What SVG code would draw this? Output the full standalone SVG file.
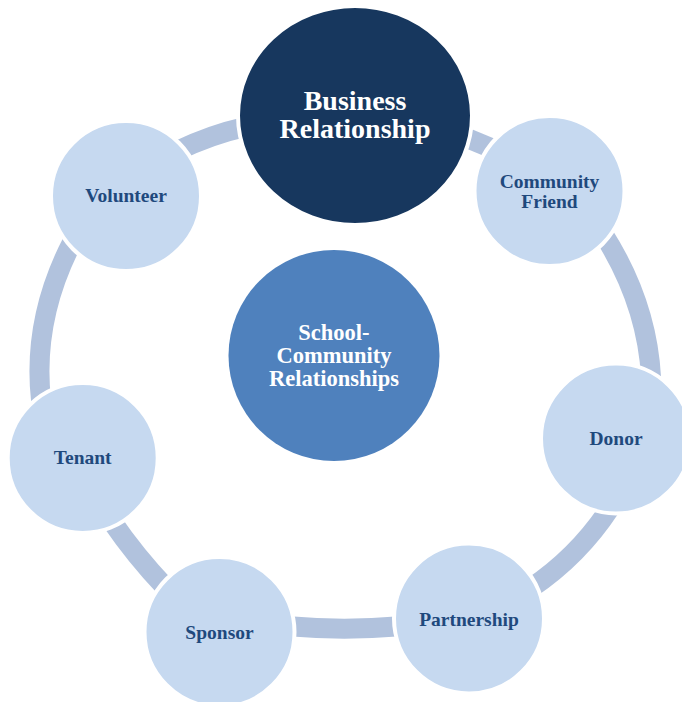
<svg xmlns="http://www.w3.org/2000/svg" width="682" height="702" viewBox="0 0 682 702">
<style>
.conn{fill:none;stroke:#b1c2dd;stroke-width:20;stroke-linecap:butt}
.sat{fill:#c6d9f0;stroke:#ffffff;stroke-width:4}
.lbl{font-family:"Liberation Serif","Times New Roman",serif;font-weight:bold;font-size:19.5px;fill:#1f497d;text-anchor:middle}
.big{font-family:"Liberation Serif","Times New Roman",serif;font-weight:bold;fill:#ffffff;text-anchor:middle}
</style>
<rect width="682" height="702" fill="#ffffff"/>
<g id="connectors">
<path class="conn" d="M 462 136 L 497 150.5"/>
<path class="conn" d="M 603 233.5 Q 647 302.75 651 377"/>
<path class="conn" d="M 610 508 Q 578.5 556 531 588"/>
<path class="conn" d="M 400 626.3 Q 344 631.1 289 626.3"/>
<path class="conn" d="M 166 588 Q 135.5 556 111 520"/>
<path class="conn" d="M 41 400 Q 32.25 319.25 72.5 241.5"/>
<path class="conn" d="M 177 151 Q 210 134.8 246 126.7"/>
</g>
<g id="center">
<circle cx="334" cy="355.5" r="105.5" fill="#4f81bd"/>
<text class="big" font-size="22.5" x="334" y="340">School-</text>
<text class="big" font-size="22.5" x="334" y="362.5">Community</text>
<text class="big" font-size="22.5" x="334" y="385.5">Relationships</text>
</g>
<g id="business">
<ellipse cx="355" cy="115.5" rx="117" ry="109.5" fill="#17375e" stroke="#ffffff" stroke-width="4"/>
<text class="big" font-size="28" x="355" y="110">Business</text>
<text class="big" font-size="28" x="355" y="137.5">Relationship</text>
</g>
<g id="community-friend">
<circle class="sat" cx="549.5" cy="191" r="75"/>
<text class="lbl" x="549.5" y="187.5">Community</text>
<text class="lbl" x="549.5" y="208">Friend</text>
</g>
<g id="donor">
<circle class="sat" cx="616" cy="438.5" r="75"/>
<text class="lbl" x="616" y="445">Donor</text>
</g>
<g id="partnership">
<circle class="sat" cx="469" cy="618.5" r="75"/>
<text class="lbl" x="469" y="625.5">Partnership</text>
</g>
<g id="sponsor">
<circle class="sat" cx="219.5" cy="632" r="75"/>
<text class="lbl" x="219.5" y="638.5">Sponsor</text>
</g>
<g id="tenant">
<circle class="sat" cx="82.7" cy="458" r="75"/>
<text class="lbl" x="82.7" y="464">Tenant</text>
</g>
<g id="volunteer">
<circle class="sat" cx="126" cy="196" r="75"/>
<text class="lbl" x="126" y="201.5">Volunteer</text>
</g>
</svg>
